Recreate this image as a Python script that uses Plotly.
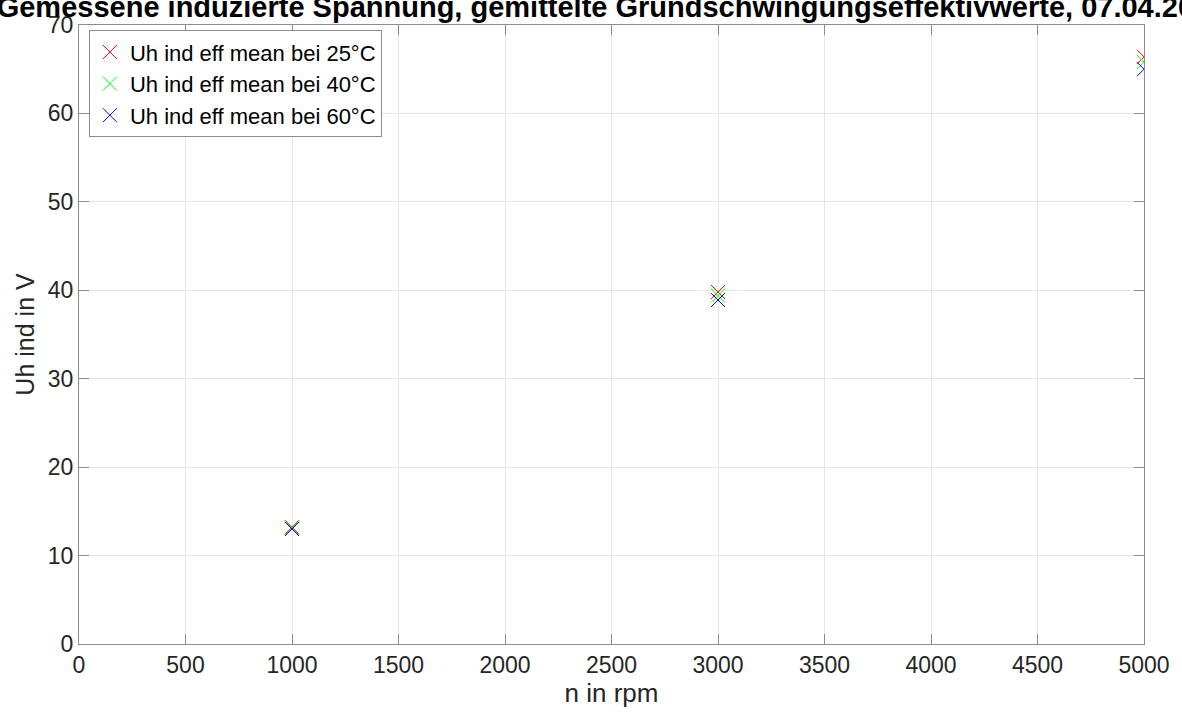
import plotly.graph_objects as go

drehzahl = [1000, 3000, 5000]
uh_25 = [13.2, 39.8, 66.4]
uh_40 = [13.1, 39.4, 65.8]
uh_60 = [13.0, 38.9, 65.0]
namen = ["Uh ind eff mean bei 25°C", "Uh ind eff mean bei 40°C", "Uh ind eff mean bei 60°C"]
farben = ["#ff0000", "#00ff00", "#0000ff"]
titel = "Gemessene induzierte Spannung, gemittelte Grundschwingungseffektivwerte, 07.04.2021"

FONT = "Liberation Sans, Arial, sans-serif"
fig = go.Figure()
for werte, name, farbe in zip([uh_25, uh_40, uh_60], namen, farben):
    fig.add_trace(go.Scatter(
        x=drehzahl, y=werte, mode="markers", name=name,
        marker=dict(symbol="x-thin-open", size=14, color=farbe,
                    line=dict(width=1, color=farbe)),
    ))

axis_common = dict(
    showline=True, linecolor="#8c8c8c", linewidth=1, mirror="allticks",
    ticks="inside", ticklen=10, tickcolor="#8c8c8c",
    showgrid=True, gridcolor="#e6e6e6", gridwidth=1, zeroline=False,
    tickfont=dict(family=FONT, size=23, color="#262626"),
)

fig.update_layout(
    width=1182, height=718,
    margin=dict(l=79, r=35, t=20, b=74),
    paper_bgcolor="white", plot_bgcolor="white",
    title=dict(text="<b>" + titel + "</b>", x=0.5, xref="paper",
               y=1 - 7 / 718, yref="container", yanchor="middle",
               font=dict(family=FONT, size=29, color="black")),
    xaxis=dict(range=[0, 5000], dtick=500, tick0=0,
               title=dict(text="n in rpm", font=dict(family=FONT, size=26, color="#262626"), standoff=6),
               **axis_common),
    yaxis=dict(range=[0, 70], dtick=10, tick0=0,
               title=dict(text="Uh ind in V", font=dict(family=FONT, size=25, color="#262626"), standoff=6),
               **axis_common),
    legend=dict(x=0.0093, y=0.9916, xanchor="left", yanchor="top",
                bgcolor="white", bordercolor="#8c8c8c", borderwidth=1,
                font=dict(family=FONT, size=22, color="black")),
    showlegend=True,
)

fig.write_html("out.html")
